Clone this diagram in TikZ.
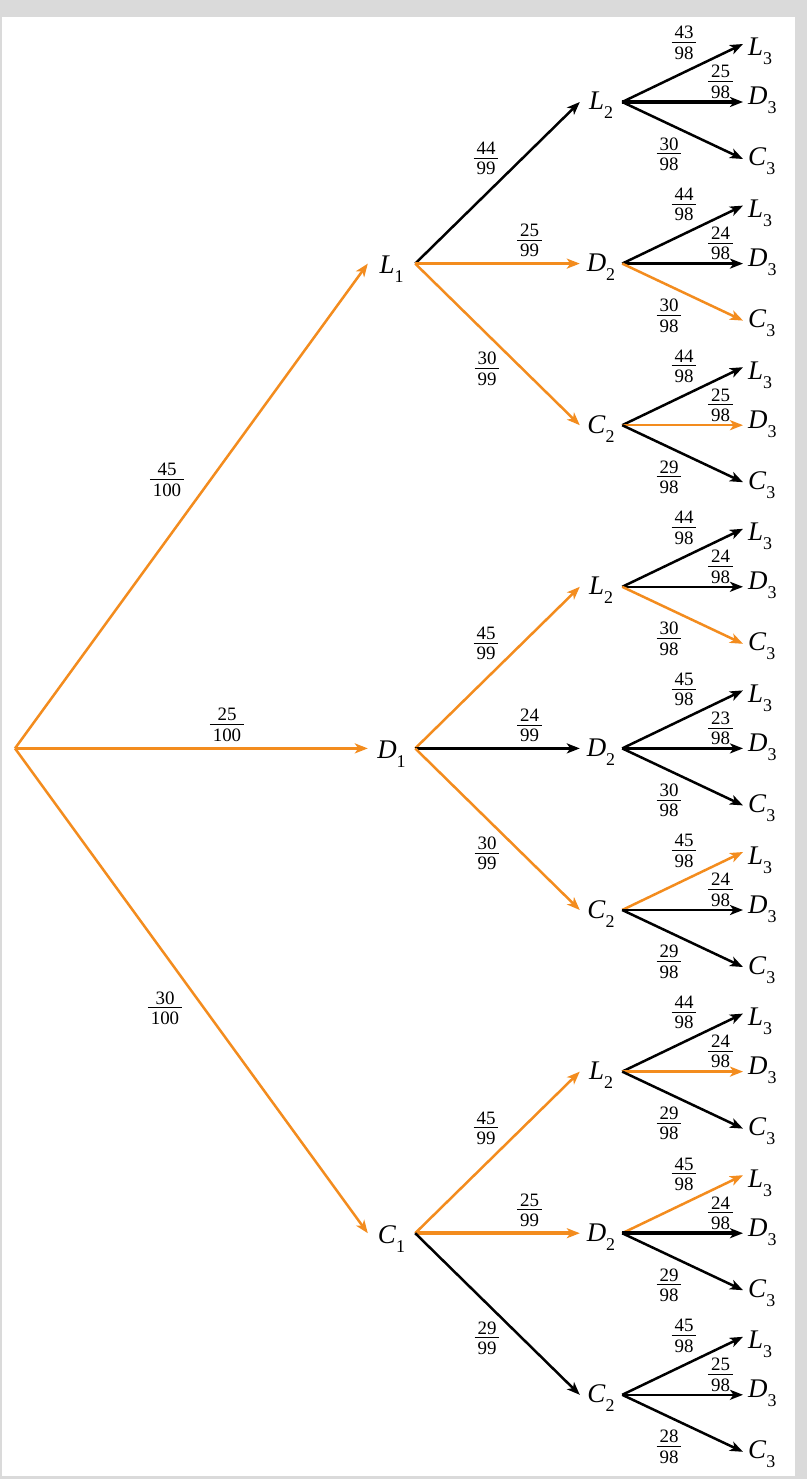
\documentclass[tikz,border=0pt]{standalone}
\usepackage{fontspec}
\setmainfont{Liberation Serif}
\usetikzlibrary{arrows.meta}
\definecolor{orng}{RGB}{243,140,30}
\definecolor{framegray}{RGB}{218,218,218}
\newcommand\nm[2]{\fontsize{27}{30}\selectfont\itshape #1\/\upshape\raisebox{-9bp}{\fontsize{18}{18}\selectfont #2}}
\newcommand\fr[2]{{\fontsize{19}{22}\selectfont\renewcommand\arraystretch{0}\setlength\arrayrulewidth{1bp}%
  \begin{tabular}{@{\kern3bp}c@{\kern3bp}}\rule[-3.2bp]{0pt}{13bp}#1\\\hline\rule{0pt}{16.2bp}#2\end{tabular}}}
\tikzset{
  edge/.style={line width=2.5bp, -{Stealth[length=13bp,width=10bp,inset=3.5bp]}},
  blk/.style={edge, draw=black},
  org/.style={edge, draw=orng},
  thk/.style={line width=3.8bp},
  nrm/.style={},
  lvlA/.style={inner sep=0pt, minimum width=47bp, text height=20bp, text depth=0bp},
  lvlB/.style={inner sep=0pt, minimum width=42bp, text height=16bp, text depth=0bp},
  lvlC/.style={anchor=west, inner xsep=5bp, inner ysep=0pt, text depth=0bp},
  tL/.style={lvlC, text height=24bp},
  tD/.style={lvlC, text height=6bp},
  tC/.style={lvlC, text height=14bp},
  frac/.style={inner sep=0pt}
}
\begin{document}
\begin{tikzpicture}[x=1bp,y=-1bp]
\useasboundingbox (0,0) rectangle (807,1479);
\fill[framegray] (0,0) rectangle (807,1479);
\fill[white] (2,17) rectangle (795,1476);
% root
\coordinate (R) at (15,748.4);
% level 1
\node[lvlA] (L1) at (391.5,263.6) {\nm{L}{1}};
\node[lvlA] (D1) at (391.5,748.4) {\nm{D}{1}};
\node[lvlA] (C1) at (391.5,1233.2) {\nm{C}{1}};
\draw[org] (R) -- (L1.west);
\draw[org] (R) -- (D1.west);
\draw[org] (R) -- (C1.west);
\node[frac] at (167,480) {\fr{45}{100}};
\node[frac] at (227,725) {\fr{25}{100}};
\node[frac] at (165,1008) {\fr{30}{100}};
% level 2
\foreach \i/\T/\y in {1/L/102, 2/D/263.6, 3/C/425.2, 4/L/586.8, 5/D/748.4, 6/C/910, 7/L/1071.6, 8/D/1233.2, 9/C/1394.8}{
  \node[lvlB] (n\i) at (601,\y) {\nm{\T}{2}};
}
\draw[blk] (L1.east) -- (n1.west);
\draw[org] (L1.east) -- (n2.west);
\draw[org] (L1.east) -- (n3.west);
\draw[org] (D1.east) -- (n4.west);
\draw[blk] (D1.east) -- (n5.west);
\draw[org] (D1.east) -- (n6.west);
\draw[org] (C1.east) -- (n7.west);
\draw[org,thk] (C1.east) -- (n8.west);
\draw[blk] (C1.east) -- (n9.west);
\node[frac] at (486,158.6) {\fr{44}{99}};
\node[frac] at (529.5,240.6) {\fr{25}{99}};
\node[frac] at (487,368.6) {\fr{30}{99}};
\node[frac] at (486,643.4) {\fr{45}{99}};
\node[frac] at (529.5,725.4) {\fr{24}{99}};
\node[frac] at (487,853.4) {\fr{30}{99}};
\node[frac] at (486,1128.2) {\fr{45}{99}};
\node[frac] at (529.5,1210.2) {\fr{25}{99}};
\node[frac] at (487,1338.2) {\fr{29}{99}};
% level 3
\foreach \i/\y/\fA/\fB/\fC/\colA/\colB/\colC/\wB in {
  1/102/43/25/30/black/black/black/thk,
  2/263.6/44/24/30/black/black/orng/nrm,
  3/425.2/44/25/29/black/orng/black/nrm,
  4/586.8/44/24/30/black/black/orng/nrm,
  5/748.4/45/23/30/black/black/black/nrm,
  6/910/45/24/29/orng/black/black/nrm,
  7/1071.6/44/24/29/black/orng/black/nrm,
  8/1233.2/45/24/29/orng/black/black/thk,
  9/1394.8/45/25/28/black/black/black/nrm}{
  \node[tL] (n\i-L) at (743,\y-58) {\nm{L}{3}};
  \node[tD] (n\i-D) at (743,\y) {\nm{D}{3}};
  \node[tC] (n\i-C) at (743,\y+57) {\nm{C}{3}};
  \draw[edge,draw=\colA] (n\i.east) -- (n\i-L.west);
  \draw[edge,draw=\colB,\wB] (n\i.east) -- (n\i-D.west);
  \draw[edge,draw=\colC] (n\i.east) -- (n\i-C.west);
  \node[frac] at (684,\y-59) {\fr{\fA}{98}};
  \node[frac] at (720.5,\y-20) {\fr{\fB}{98}};
  \node[frac] at (669,\y+52) {\fr{\fC}{98}};
}
\end{tikzpicture}
\end{document}
